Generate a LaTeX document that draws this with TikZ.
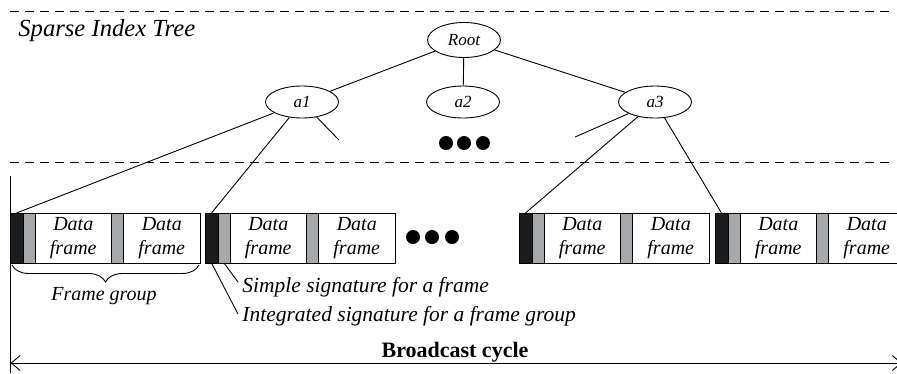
\documentclass[tikz,border=0pt]{standalone}
\usepackage{fontspec}
\setmainfont{Liberation Serif}
\usetikzlibrary{positioning,arrows.meta,decorations.pathreplacing,shapes.geometric}
\definecolor{sigblack}{RGB}{28,28,28}
\definecolor{siggray}{RGB}{166,169,172}
\begin{document}
\begin{tikzpicture}[x=1pt,y=-1pt,line width=0.9pt,
    tnode/.style={draw,ellipse,minimum width=73pt,minimum height=32pt,inner sep=0pt,font=\fontsize{17}{20}\selectfont\itshape},
    cell/.style={draw,minimum height=50pt,inner sep=0pt,outer sep=0pt},
    blk/.style={cell,fill=sigblack,minimum width=13pt},
    sig/.style={cell,fill=siggray,minimum width=12pt},
    frm/.style={cell,fill=white,minimum width=76.5pt,align=center,font=\fontsize{20}{24}\selectfont\itshape},
    lbl/.style={font=\fontsize{20}{24}\selectfont\itshape,inner sep=0pt},
    dashline/.style={dash pattern=on 9pt off 6pt}]
        \useasboundingbox (0,0) rectangle (897,373);
        \clip (0,0) rectangle (897,373);

        \draw[dashline] (10,11) -- (890,11);
        \draw[dashline] (10,162) -- (890,162);
        \node[anchor=base west,inner sep=0pt,font=\fontsize{24.6}{28}\selectfont\itshape] (title) at (18,36) {Sparse Index Tree};

        % index tree
        \node[tnode,minimum height=35pt] (root) at (464,40) {Root};
        \node[tnode] (a1) at (302,102) {a1};
        \node[tnode] (a2) at (463,102) {a2};
        \node[tnode] (a3) at (655,102) {a3};
        \draw (root) -- (a1);
        \draw (root) -- (a2);
        \draw (root) -- (a3);
        \coordinate (a1s) at (339,140);
        \coordinate (a3s) at (575,137);
        \draw (a1) -- (a1s);
        \draw (a3) -- (a3s);
        \foreach \x in {446,464,483} \fill (\x,143) circle (7pt);

        % frame groups
        \node[blk,anchor=north west] (b1) at (10,213) {};
        \node[sig,right=0pt of b1] (s1) {};
        \node[frm,right=0pt of s1] (f1) {Data\\frame};
        \node[sig,right=0pt of f1] (t1) {};
        \node[frm,right=0pt of t1] (g1) {Data\\frame};

        \node[blk,anchor=north west] (b2) at (205,213) {};
        \node[sig,right=0pt of b2] (s2) {};
        \node[frm,right=0pt of s2] (f2) {Data\\frame};
        \node[sig,right=0pt of f2] (t2) {};
        \node[frm,right=0pt of t2] (g2) {Data\\frame};

        \node[blk,anchor=north west] (b3) at (519,213) {};
        \node[sig,right=0pt of b3] (s3) {};
        \node[frm,right=0pt of s3] (f3) {Data\\frame};
        \node[sig,right=0pt of f3] (t3) {};
        \node[frm,right=0pt of t3] (g3) {Data\\frame};

        \node[blk,anchor=north west] (b4) at (715,213) {};
        \node[sig,right=0pt of b4] (s4) {};
        \node[frm,right=0pt of s4] (f4) {Data\\frame};
        \node[sig,right=0pt of f4] (t4) {};
        \node[frm,right=0pt of t4] (g4) {Data\\frame};

        \foreach \x in {413,432,452} \fill (\x,237) circle (7pt);

        \draw (a1) -- (b1.north);
        \draw (a1) -- (b2.north);
        \draw (a3) -- (b3.north);
        \draw (a3) -- (b4.north);

        % labels
        \draw[decorate,decoration={brace,amplitude=17pt,mirror}] (12,265) -- (199,265);
        \node[lbl,anchor=base] (fgrp) at (104,300) {Frame group};

        \coordinate (simp) at (238,282);
        \coordinate (integ) at (238,314);
        \draw (s2.south) -- (simp);
        \draw (b2.south) -- (integ);
        \node[lbl,font=\fontsize{21.5}{24}\selectfont\itshape,anchor=base west] (simpT) at (242,292) {Simple signature for a frame};
        \node[lbl,font=\fontsize{21.5}{24}\selectfont\itshape,anchor=base west] (integT) at (242,321) {Integrated signature for a frame group};

        % broadcast cycle
        \coordinate (cycT) at (10.5,176);
        \coordinate (cycB) at (10.5,373);
        \draw (cycT) -- (cycB);
        \coordinate (cycL) at (10.5,363);
        \coordinate (cycR) at (902,363);
        \draw[{Straight Barb[length=9pt,width=15pt]}-{Straight Barb[length=9pt,width=15pt]}] (cycL) -- (cycR);
        \node[anchor=base,inner sep=0pt,font=\fontsize{22}{26}\selectfont\bfseries] (bcyc) at (455,357) {Broadcast cycle};

    \end{tikzpicture}
\end{document}
